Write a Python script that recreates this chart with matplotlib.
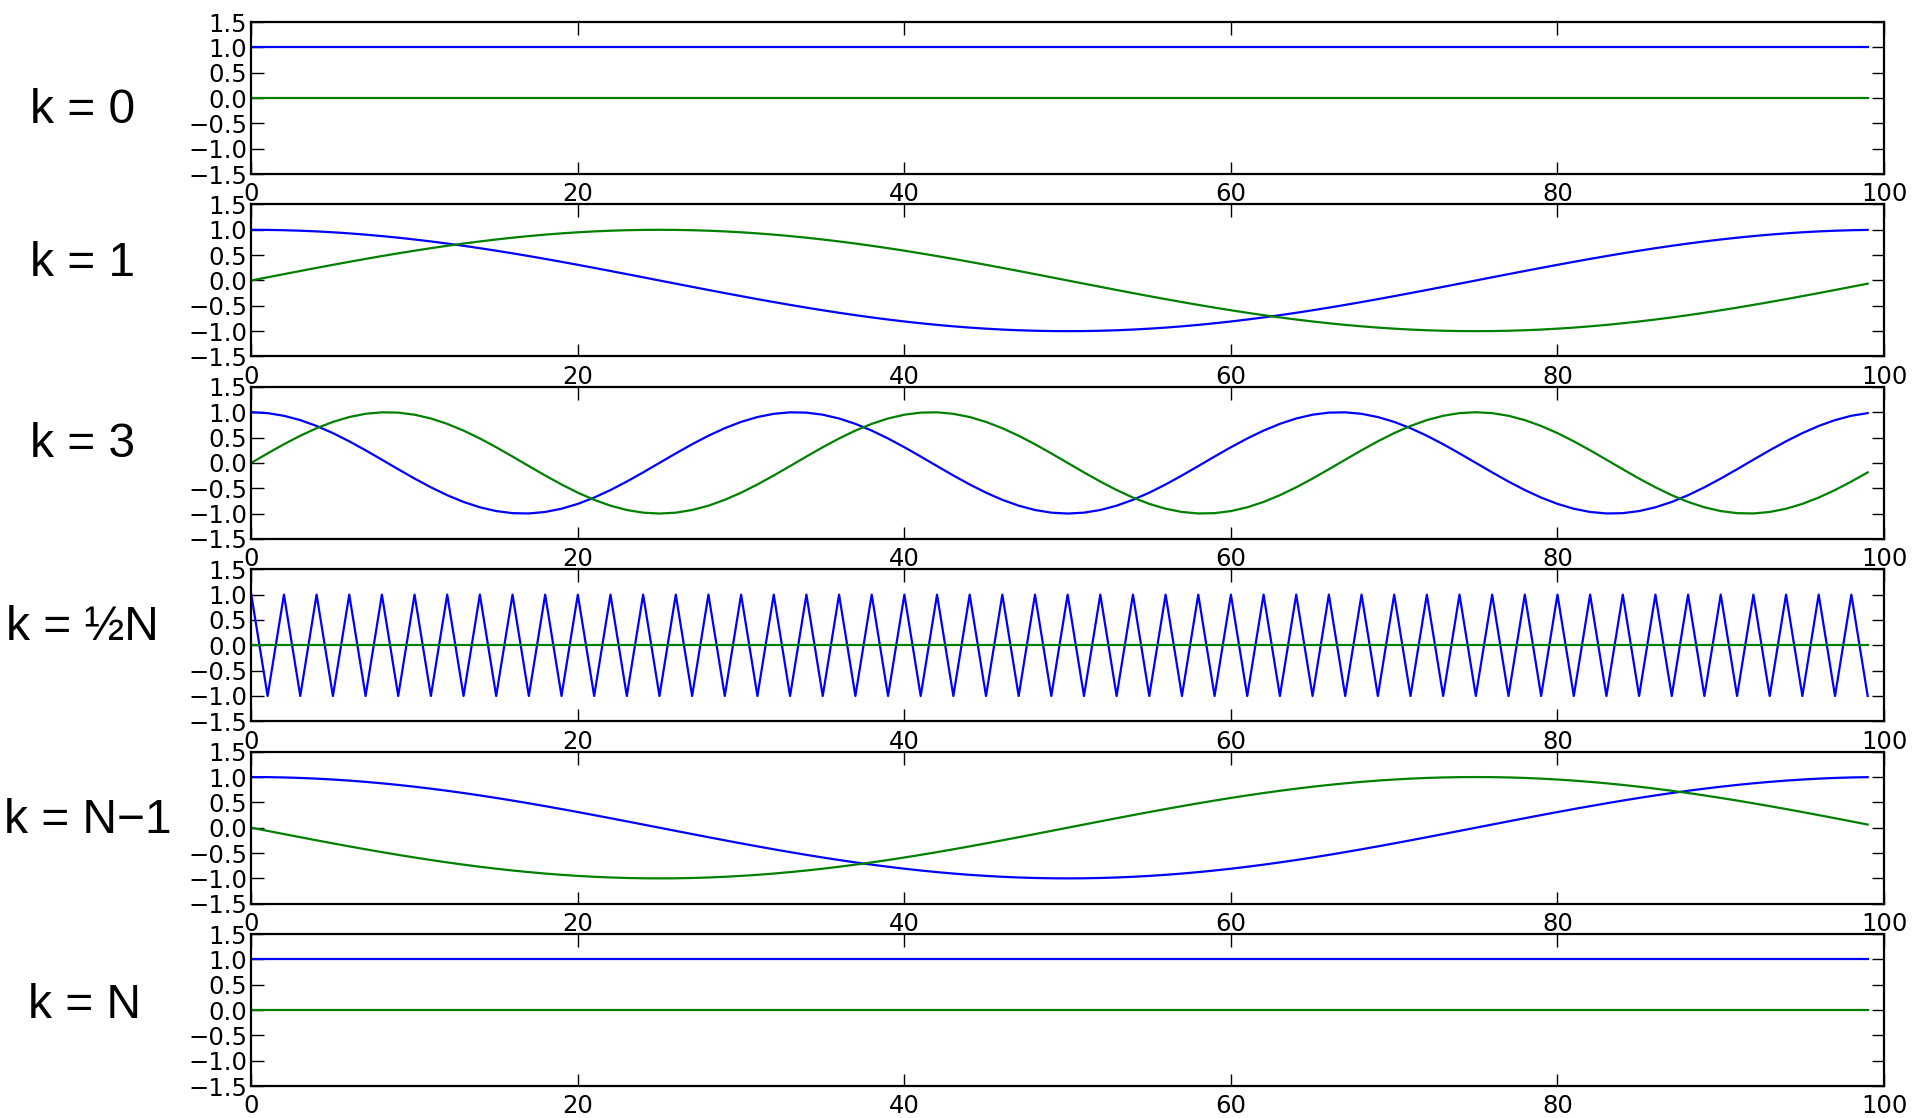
import numpy as np
import matplotlib.pyplot as plt

N = 100
n = np.arange(N)
k_values = [0, 1, 3, 50, 99, 100]
k_labels = ['k = 0', 'k = 1', 'k = 3', 'k = ½N', 'k = N\u22121', 'k = N']
label_y = [90, 215, 363, 512, 669, 820]  # in shrunk-reference pixels
label_x = [67, 67, 67, 67, 72, 69]

fig = plt.figure(figsize=(19.22, 11.18), dpi=100)
W, H = 1568.0, 912.0

left, right = 205 / W, 1537 / W
top0 = 18 / H
height = 124 / H
pitch = 148.8 / H

for i, k in enumerate(k_values):
    bottom = 1 - top0 - height - i * pitch
    ax = fig.add_axes([left, bottom, right - left, height])
    ax.plot(n, np.cos(2 * np.pi * k * n / N), color='b', lw=1.6)
    ax.plot(n, np.sin(2 * np.pi * k * n / N), color='g', lw=1.6)
    ax.set_xlim(0, 100)
    ax.set_ylim(-1.5, 1.5)
    ax.set_xticks([0, 20, 40, 60, 80, 100])
    ax.set_yticks([-1.5, -1.0, -0.5, 0.0, 0.5, 1.0, 1.5])
    ax.tick_params(direction='in', top=True, right=True, length=9, width=1,
                   labelsize=17.5, pad=6)
    ax.tick_params(axis='y', pad=3)
    for s in ax.spines.values():
        s.set_linewidth(1.6)
    fig.text(label_x[i] / W, 1 - label_y[i] / H, k_labels[i], ha='center', va='center',
             fontsize=34.5, family='Liberation Sans')

fig.savefig('out.png', dpi=100, facecolor='white')
